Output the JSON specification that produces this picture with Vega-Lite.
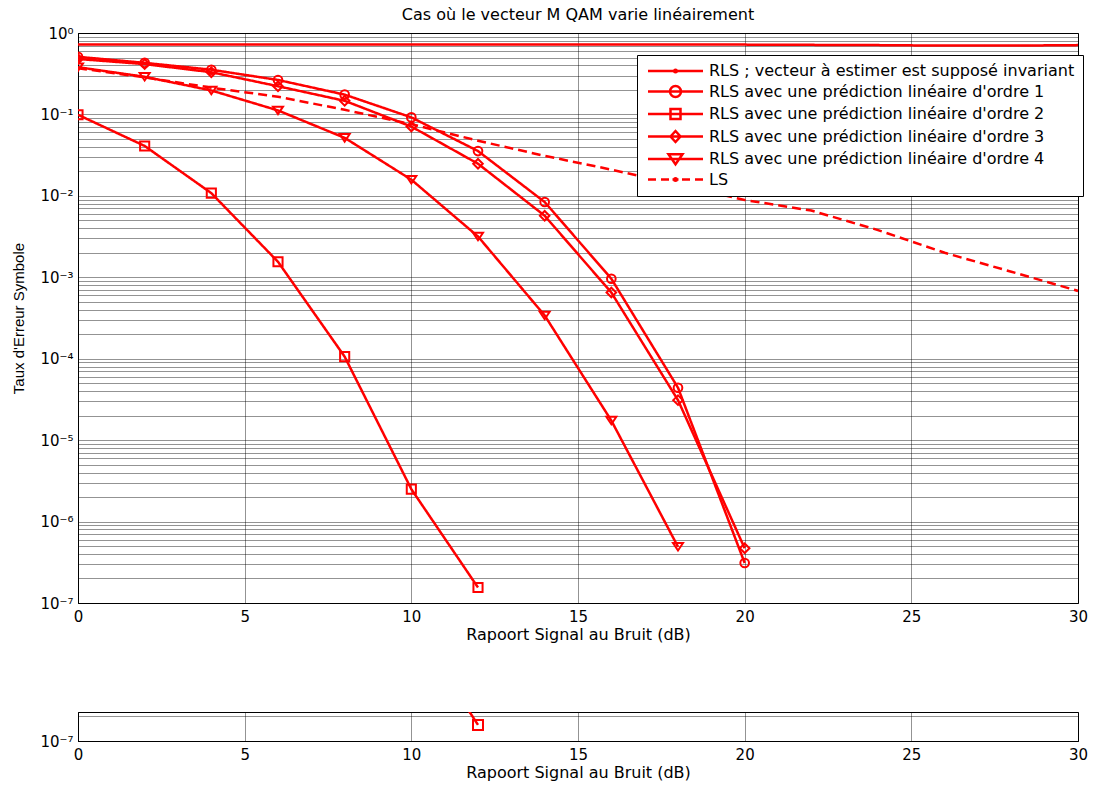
{
  "$schema": "https://vega.github.io/schema/vega-lite/v6.json",
  "background": "white",
  "padding": {"left": 10, "top": 6, "right": 0, "bottom": 0},
  "spacing": 65,
  "config": {
    "font": "DejaVu Sans",
    "view": {"stroke": "black", "strokeWidth": 1},
    "axis": {
      "labelFont": "DejaVu Sans", "labelFontSize": 15, "labelColor": "black",
      "titleFont": "DejaVu Sans", "titleFontSize": 16, "titleFontWeight": "normal", "titleColor": "black",
      "domainColor": "black", "domainWidth": 1, "ticks": false, "tickSize": 0,
      "gridColor": "#000", "gridDash": [1, 1], "gridOpacity": 0.85, "gridWidth": 1,
      "labelOverlap": false, "labelFlush": false
    }
  },
  "resolve": {"scale": {"shape": "independent", "strokeDash": "independent"}},
  "datasets": {
    "ser": [
      {"serie": "RLS ; vecteur à estimer est supposé invariant", "snr": 0, "taux": 0.72},
      {"serie": "RLS ; vecteur à estimer est supposé invariant", "snr": 2, "taux": 0.72},
      {"serie": "RLS ; vecteur à estimer est supposé invariant", "snr": 4, "taux": 0.72},
      {"serie": "RLS ; vecteur à estimer est supposé invariant", "snr": 6, "taux": 0.72},
      {"serie": "RLS ; vecteur à estimer est supposé invariant", "snr": 8, "taux": 0.72},
      {"serie": "RLS ; vecteur à estimer est supposé invariant", "snr": 10, "taux": 0.72},
      {"serie": "RLS ; vecteur à estimer est supposé invariant", "snr": 12, "taux": 0.72},
      {"serie": "RLS ; vecteur à estimer est supposé invariant", "snr": 14, "taux": 0.72},
      {"serie": "RLS ; vecteur à estimer est supposé invariant", "snr": 16, "taux": 0.72},
      {"serie": "RLS ; vecteur à estimer est supposé invariant", "snr": 18, "taux": 0.72},
      {"serie": "RLS ; vecteur à estimer est supposé invariant", "snr": 20, "taux": 0.72},
      {"serie": "RLS ; vecteur à estimer est supposé invariant", "snr": 22, "taux": 0.715},
      {"serie": "RLS ; vecteur à estimer est supposé invariant", "snr": 24, "taux": 0.71},
      {"serie": "RLS ; vecteur à estimer est supposé invariant", "snr": 26, "taux": 0.70},
      {"serie": "RLS ; vecteur à estimer est supposé invariant", "snr": 28, "taux": 0.70},
      {"serie": "RLS ; vecteur à estimer est supposé invariant", "snr": 30, "taux": 0.71},
      {"serie": "RLS avec une prédiction linéaire d'ordre 1", "snr": 0, "taux": 0.51},
      {"serie": "RLS avec une prédiction linéaire d'ordre 1", "snr": 2, "taux": 0.43},
      {"serie": "RLS avec une prédiction linéaire d'ordre 1", "snr": 4, "taux": 0.354},
      {"serie": "RLS avec une prédiction linéaire d'ordre 1", "snr": 6, "taux": 0.265},
      {"serie": "RLS avec une prédiction linéaire d'ordre 1", "snr": 8, "taux": 0.175},
      {"serie": "RLS avec une prédiction linéaire d'ordre 1", "snr": 10, "taux": 0.092},
      {"serie": "RLS avec une prédiction linéaire d'ordre 1", "snr": 12, "taux": 0.0355},
      {"serie": "RLS avec une prédiction linéaire d'ordre 1", "snr": 14, "taux": 0.0084},
      {"serie": "RLS avec une prédiction linéaire d'ordre 1", "snr": 16, "taux": 0.00096},
      {"serie": "RLS avec une prédiction linéaire d'ordre 1", "snr": 18, "taux": 0.000044},
      {"serie": "RLS avec une prédiction linéaire d'ordre 1", "snr": 20, "taux": 3.1e-7},
      {"serie": "RLS avec une prédiction linéaire d'ordre 2", "snr": 0, "taux": 0.099},
      {"serie": "RLS avec une prédiction linéaire d'ordre 2", "snr": 2, "taux": 0.041},
      {"serie": "RLS avec une prédiction linéaire d'ordre 2", "snr": 4, "taux": 0.0108},
      {"serie": "RLS avec une prédiction linéaire d'ordre 2", "snr": 6, "taux": 0.00155},
      {"serie": "RLS avec une prédiction linéaire d'ordre 2", "snr": 8, "taux": 0.000106},
      {"serie": "RLS avec une prédiction linéaire d'ordre 2", "snr": 10, "taux": 2.5e-6},
      {"serie": "RLS avec une prédiction linéaire d'ordre 2", "snr": 12, "taux": 1.55e-7},
      {"serie": "RLS avec une prédiction linéaire d'ordre 3", "snr": 0, "taux": 0.48},
      {"serie": "RLS avec une prédiction linéaire d'ordre 3", "snr": 2, "taux": 0.415},
      {"serie": "RLS avec une prédiction linéaire d'ordre 3", "snr": 4, "taux": 0.33},
      {"serie": "RLS avec une prédiction linéaire d'ordre 3", "snr": 6, "taux": 0.222},
      {"serie": "RLS avec une prédiction linéaire d'ordre 3", "snr": 8, "taux": 0.147},
      {"serie": "RLS avec une prédiction linéaire d'ordre 3", "snr": 10, "taux": 0.071},
      {"serie": "RLS avec une prédiction linéaire d'ordre 3", "snr": 12, "taux": 0.0248},
      {"serie": "RLS avec une prédiction linéaire d'ordre 3", "snr": 14, "taux": 0.0057},
      {"serie": "RLS avec une prédiction linéaire d'ordre 3", "snr": 16, "taux": 0.00065},
      {"serie": "RLS avec une prédiction linéaire d'ordre 3", "snr": 18, "taux": 0.000031},
      {"serie": "RLS avec une prédiction linéaire d'ordre 3", "snr": 20, "taux": 4.7e-7},
      {"serie": "RLS avec une prédiction linéaire d'ordre 4", "snr": 0, "taux": 0.38},
      {"serie": "RLS avec une prédiction linéaire d'ordre 4", "snr": 2, "taux": 0.29},
      {"serie": "RLS avec une prédiction linéaire d'ordre 4", "snr": 4, "taux": 0.197},
      {"serie": "RLS avec une prédiction linéaire d'ordre 4", "snr": 6, "taux": 0.112},
      {"serie": "RLS avec une prédiction linéaire d'ordre 4", "snr": 8, "taux": 0.0516},
      {"serie": "RLS avec une prédiction linéaire d'ordre 4", "snr": 10, "taux": 0.0158},
      {"serie": "RLS avec une prédiction linéaire d'ordre 4", "snr": 12, "taux": 0.00317},
      {"serie": "RLS avec une prédiction linéaire d'ordre 4", "snr": 14, "taux": 0.00034},
      {"serie": "RLS avec une prédiction linéaire d'ordre 4", "snr": 16, "taux": 0.0000174},
      {"serie": "RLS avec une prédiction linéaire d'ordre 4", "snr": 18, "taux": 4.9e-7},
      {"serie": "LS", "snr": 0, "taux": 0.37},
      {"serie": "LS", "snr": 2, "taux": 0.285},
      {"serie": "LS", "snr": 4, "taux": 0.213},
      {"serie": "LS", "snr": 6, "taux": 0.165},
      {"serie": "LS", "snr": 8, "taux": 0.114},
      {"serie": "LS", "snr": 10, "taux": 0.076},
      {"serie": "LS", "snr": 12, "taux": 0.0475},
      {"serie": "LS", "snr": 14, "taux": 0.031},
      {"serie": "LS", "snr": 16, "taux": 0.021},
      {"serie": "LS", "snr": 18, "taux": 0.0137},
      {"serie": "LS", "snr": 20, "taux": 0.0089},
      {"serie": "LS", "snr": 22, "taux": 0.0066},
      {"serie": "LS", "snr": 24, "taux": 0.0038},
      {"serie": "LS", "snr": 26, "taux": 0.002},
      {"serie": "LS", "snr": 28, "taux": 0.00117},
      {"serie": "LS", "snr": 30, "taux": 0.00068}
    ]
  },
  "vconcat": [
    {
      "width": 1000,
      "height": 570,
      "title": {"text": "Cas où le vecteur M QAM varie linéairement", "font": "DejaVu Sans", "fontSize": 16, "fontWeight": "normal", "color": "black", "frame": "group", "anchor": "middle", "baseline": "alphabetic", "offset": -10},
      "data": {"name": "ser"},
      "resolve": {"scale": {"shape": "independent"}, "legend": {"shape": "independent"}},
      "layer": [
        {
          "mark": {"type": "line", "color": "red", "strokeWidth": 2.5, "clip": true},
          "encoding": {
            "x": {"field": "snr", "type": "quantitative", "scale": {"domain": [0, 30], "nice": false, "zero": false},
                  "axis": {"values": [0, 5, 10, 15, 20, 25, 30], "title": "Rapoort Signal au Bruit (dB)", "labelPadding": 6, "titlePadding": 2}},
            "y": {"field": "taux", "type": "quantitative", "scale": {"type": "log", "domain": [1e-7, 1], "nice": false},
                  "axis": {"title": "Taux d'Erreur Symbole", "titleFont": "Liberation Sans", "titleFontSize": 15, "titleX": -52, "titleY": 285, "labelPadding": 5,
                           "values": [1e-7,2e-7,3e-7,4e-7,5e-7,6e-7,7e-7,8e-7,9e-7,1e-6,2e-6,3e-6,4e-6,5e-6,6e-6,7e-6,8e-6,9e-6,1e-5,2e-5,3e-5,4e-5,5e-5,6e-5,7e-5,8e-5,9e-5,1e-4,2e-4,3e-4,4e-4,5e-4,6e-4,7e-4,8e-4,9e-4,1e-3,2e-3,3e-3,4e-3,5e-3,6e-3,7e-3,8e-3,9e-3,1e-2,2e-2,3e-2,4e-2,5e-2,6e-2,7e-2,8e-2,9e-2,0.1,0.2,0.3,0.4,0.5,0.6,0.7,0.8,0.9,1],
                           "labelExpr": "abs(log(datum.value)/LN10 - round(log(datum.value)/LN10)) < 0.01 ? '10' + ['⁰','⁻¹','⁻²','⁻³','⁻⁴','⁻⁵','⁻⁶','⁻⁷'][-round(log(datum.value)/LN10)] : ''"}},
            "detail": {"field": "serie", "type": "nominal"},
            "strokeDash": {"field": "serie", "type": "nominal",
              "scale": {"domain": ["RLS ; vecteur à estimer est supposé invariant", "RLS avec une prédiction linéaire d'ordre 1", "RLS avec une prédiction linéaire d'ordre 2", "RLS avec une prédiction linéaire d'ordre 3", "RLS avec une prédiction linéaire d'ordre 4", "LS"],
                        "range": [[1, 0], [1, 0], [1, 0], [1, 0], [1, 0], [9, 5]]},
              "legend": null}
          }
        },
        {
          "transform": [{"filter": {"field": "serie", "oneOf": ["RLS avec une prédiction linéaire d'ordre 1", "RLS avec une prédiction linéaire d'ordre 2", "RLS avec une prédiction linéaire d'ordre 3", "RLS avec une prédiction linéaire d'ordre 4"]}}],
          "mark": {"type": "point", "color": "red", "filled": false, "strokeWidth": 2, "opacity": 1, "clip": true},
          "encoding": {
            "x": {"field": "snr", "type": "quantitative"},
            "y": {"field": "taux", "type": "quantitative"},
            "shape": {"field": "serie", "type": "nominal",
              "scale": {"domain": ["RLS avec une prédiction linéaire d'ordre 1", "RLS avec une prédiction linéaire d'ordre 2", "RLS avec une prédiction linéaire d'ordre 3", "RLS avec une prédiction linéaire d'ordre 4"],
                        "range": ["circle", "square", "diamond", "M-1,-0.75L1,-0.75L0,0.75Z"]},
              "legend": null},
            "size": {"field": "serie", "type": "nominal",
              "scale": {"domain": ["RLS avec une prédiction linéaire d'ordre 1", "RLS avec une prédiction linéaire d'ordre 2", "RLS avec une prédiction linéaire d'ordre 3", "RLS avec une prédiction linéaire d'ordre 4"],
                        "range": [75, 100, 90, 169]},
              "legend": null}
          }
        },
        {
          "mark": {"type": "point", "color": "red", "filled": false, "strokeWidth": 2.5, "opacity": 0},
          "encoding": {
            "x": {"field": "snr", "type": "quantitative"},
            "y": {"field": "taux", "type": "quantitative"},
            "shape": {"field": "serie", "type": "nominal",
              "scale": {"domain": ["RLS ; vecteur à estimer est supposé invariant", "RLS avec une prédiction linéaire d'ordre 1", "RLS avec une prédiction linéaire d'ordre 2", "RLS avec une prédiction linéaire d'ordre 3", "RLS avec une prédiction linéaire d'ordre 4", "LS"],
                        "range": [
                          "M-1,0H10M4.25,0a0.25,0.25 0 1,0 0.5,0a0.25,0.25 0 1,0 -0.5,0",
                          "M-1,0H10M3.4,0a1.1,1.1 0 1,0 2.2,0a1.1,1.1 0 1,0 -2.2,0",
                          "M-1,0H10M3.5,-1H5.5V1H3.5Z",
                          "M-1,0H10M3.5,0L4.5,-1.1L5.5,0L4.5,1.1Z",
                          "M-1,0H10M3.1,-0.95H5.9L4.5,1.05Z",
                          "M-1,0H0.6M1.6,0H3.2M3.9,0H5.1M5.8,0H7.4M8.4,0H10M4.25,0a0.25,0.25 0 1,0 0.5,0a0.25,0.25 0 1,0 -0.5,0"
                        ]},
              "legend": {"title": null, "orient": "none", "legendX": 559, "legendY": 22, "symbolSize": 100, "symbolStrokeWidth": 2.5, "symbolStrokeColor": "red", "symbolFillColor": "transparent", "symbolOpacity": 1,
                         "labelFont": "DejaVu Sans", "labelFontSize": 16, "labelColor": "black", "labelOffset": 48, "labelLimit": 600, "rowPadding": 1.5, "padding": 8,
                         "strokeColor": "black", "fillColor": "white", "cornerRadius": 0}}
          }
        }
      ]
    },
    {
      "width": 1000,
      "height": 29,
      "data": {"name": "ser"},
      "layer": [
        {
          "transform": [{"filter": {"field": "serie", "equal": "RLS avec une prédiction linéaire d'ordre 2"}}],
          "mark": {"type": "line", "color": "red", "strokeWidth": 2.5, "clip": true},
          "encoding": {
            "x": {"field": "snr", "type": "quantitative", "scale": {"domain": [0, 30], "nice": false, "zero": false},
                  "axis": {"values": [0, 5, 10, 15, 20, 25, 30], "title": "Rapoort Signal au Bruit (dB)", "labelPadding": 6, "titlePadding": 2}},
            "y": {"field": "taux", "type": "quantitative", "scale": {"type": "log", "domain": [1e-7, 2.2e-7], "nice": false},
                  "axis": {"title": null, "labelPadding": 5, "values": [1e-7, 2e-7],
                           "labelExpr": "abs(log(datum.value)/LN10 - round(log(datum.value)/LN10)) < 0.01 ? '10' + ['⁰','⁻¹','⁻²','⁻³','⁻⁴','⁻⁵','⁻⁶','⁻⁷'][-round(log(datum.value)/LN10)] : ''"}}
          }
        },
        {
          "transform": [{"filter": {"field": "serie", "equal": "RLS avec une prédiction linéaire d'ordre 2"}}],
          "mark": {"type": "square", "color": "red", "filled": false, "strokeWidth": 2, "size": 100, "opacity": 1, "clip": true},
          "encoding": {
            "x": {"field": "snr", "type": "quantitative"},
            "y": {"field": "taux", "type": "quantitative"}
          }
        }
      ]
    }
  ]
}
